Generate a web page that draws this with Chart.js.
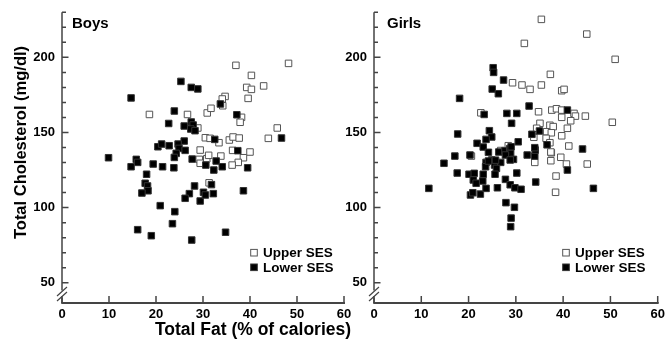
<!DOCTYPE html>
<html><head><meta charset="utf-8">
<script src="https://cdn.jsdelivr.net/npm/chart.js@4.4.1/dist/chart.umd.min.js"></script>
<style>
html,body{margin:0;padding:0;background:#fff;width:667px;height:339px;overflow:hidden}
canvas{position:absolute;top:0}
#c1{left:0}
#c2{left:338px}
</style></head><body>
<canvas id="c1" width="360" height="339"></canvas>
<canvas id="c2" width="329" height="339"></canvas>
<script>
// ---------- data ----------
const seriesLabels = ['Upper SES', 'Lower SES'];
const panelTitles = ['Boys', 'Girls'];
const xTickValues = [0, 10, 20, 30, 40, 50, 60];
const yMajorTicks = [50, 100, 150, 200];
const yMinorTicks = [60, 70, 80, 90, 110, 120, 130, 140, 160, 170, 180, 190, 210, 220, 230];
const xAxisTitle = 'Total Fat (% of calories)';
const yAxisTitle = 'Total Cholesterol (mg/dl)';

const boysUpper = [
  [18.6,162],[26.7,162],[30.9,163],[28.9,153],[30.5,146.5],[29.4,138.3],[29.2,132.1],[30.8,132.5],
  [31.2,134.8],[29.4,129.5],[37,194.7],[48.2,196],[40.3,188],[39.3,180],[40.3,178.7],[42.9,181],
  [39.6,172.7],[34.7,174],[34.1,172.3],[34.2,167.8],[31.7,166.1],[38.2,160.1],[37.9,156.8],[45.8,153],
  [43.9,146.1],[31.5,146.1],[33.4,143.2],[35.6,145],[36.4,147],[37.7,146.3],[36.3,138.1],[40,137],
  [38.6,133.2],[37.5,130.1],[36.2,128.3],[33.8,134.3],[31.3,116.5]
];
const boysLower = [
  [25.3,184],[27.5,180],[28.9,179],[14.7,173],[23.9,164.3],[22.7,156],[26,154.3],[27.5,157],
  [27.9,155],[27.4,152.3],[28.3,151.2],[26,144.3],[24.7,142.3],[24.9,139.4],[24.3,136.1],[23.9,133.4],
  [26.2,138.1],[20.4,140.5],[21.2,142.3],[22.8,141.2],[27.7,132.3],[30.6,128.3],[9.9,133.2],[15.8,132.1],
  [16.1,130.1],[14.7,127.2],[19.4,129],[21.4,127.2],[23.8,126.5],[18,122.2],[17.7,116.2],[18.2,114.4],
  [18.3,111.2],[17,109.7],[20.9,101.3],[24,97.3],[23.5,89.3],[16.1,85.3],[19,81.3],[27.6,78.4],
  [28.2,114.4],[27.1,109.3],[26.2,106.2],[29.4,104.4],[30.1,110.2],[30.5,108.4],[33.7,169],[37.2,161.8],
  [46.7,146.3],[32.5,145.4],[37.4,137.9],[32.8,131],[34.1,127.2],[32.3,125],[39.5,126.5],[31.8,115.3],
  [32.2,109.3],[38.6,111.2],[34.8,83.6]
];
const girlsUpper = [
  [29.3,183.1],[22.6,163.1],[28.4,141.2],[20.6,134.3],[34,130.1],[37.4,131.2],[37.5,136.5],[39.5,133.5],
  [40.7,129],[45.1,129],[38.5,121],[38.4,110.2],[35.4,225.3],[45,215.5],[31.8,209.3],[51,198.7],
  [37.3,188.7],[31.3,181.6],[33,178.7],[35.4,181.6],[39.7,177.8],[40.2,178.7],[34.8,163.8],[37.6,164.9],
  [38.6,165.8],[39.7,164.9],[42.3,162.7],[42.6,160.9],[44.7,160.9],[39.7,160.1],[41.6,157.8],[50.4,156.8],
  [35.1,156.1],[37.2,154.8],[37.9,153.9],[34.4,152.8],[36.5,150.5],[37.5,149.8],[40.9,152.8],[33.8,146.8],
  [36.4,146.1],[39.7,147.8],[37.2,143.2],[41.2,141],[37.4,137],[26.8,138]
];
const girlsLower = [
  [25.2,193.1],[25.3,190],[27.4,184.9],[25,178.9],[26.3,175.8],[18.1,172.7],[23.3,162],[28.1,162.7],
  [30.2,162.7],[29.1,156.1],[17.7,149],[24.4,151.2],[24.9,147],[23.7,145.4],[21.8,142.8],[23.1,140.3],
  [24.2,136.8],[30.5,143.8],[26.4,137],[27.7,137.9],[28.7,139.2],[28.9,136.1],[27.8,135],[17.1,134.3],
  [20.3,135],[29.5,132.1],[14.8,129.5],[23.7,130.1],[24.9,131.7],[25.5,128.3],[26.8,130.1],[23.6,127.2],
  [25.9,126.1],[11.6,112.8],[17.6,123],[20.1,122.2],[21.2,122.8],[21,118.4],[21.6,116.2],[23,117.7],
  [23.1,122.2],[20.4,108.4],[20.9,109.9],[22.5,109],[23.7,112.8],[25.6,122.2],[26.1,113.2],[27.8,118.8],
  [28.8,115.2],[29.8,113.2],[30.2,123],[27.9,103.3],[29.7,100.2],[29,93],[28.9,87.3],[32.4,135],
  [34,134.3],[34.1,138.3],[40.9,125],[31.1,112.2],[34.2,117],[46.4,112.8],[32.8,167.6],[40.9,164.9],
  [35,151],[33.4,148.8],[36.6,141.8],[34,139.9],[44.1,139],[29,140.5],[24.2,131],[25.7,131.6],[28.8,131.7]
];

// ---------- drawing ----------
const FONT = '"Liberation Sans", Arial, Helvetica, sans-serif';
const AXIS = '#444';

const axesPlugin = {
  id: 'axes',
  afterDraw(chart, args, opts) {
    const {ctx, chartArea: a, scales: {x, y}} = chart;
    const ax = a.left, ay = a.bottom;
    ctx.save();
    ctx.strokeStyle = AXIS;
    ctx.lineCap = 'butt';
    // y axis with break
    ctx.lineWidth = 1.5;
    ctx.beginPath();
    ctx.moveTo(ax, a.top); ctx.lineTo(ax, ay - 12.5);
    ctx.moveTo(ax, ay - 5.5); ctx.lineTo(ax, ay);
    ctx.stroke();
    ctx.lineWidth = 1.2;
    ctx.beginPath();
    [ay - 11.5, ay - 6.5].forEach(yc => { ctx.moveTo(ax - 5, yc + 4.5); ctx.lineTo(ax + 5, yc - 4.5); });
    ctx.stroke();
    // y ticks
    ctx.lineWidth = 1.5;
    ctx.beginPath();
    yMajorTicks.forEach(v => { const p = y.getPixelForValue(v); ctx.moveTo(ax, p); ctx.lineTo(ax + 6.5, p); });
    yMinorTicks.forEach(v => { const p = y.getPixelForValue(v); ctx.moveTo(ax, p); ctx.lineTo(ax + 4, p); });
    ctx.stroke();
    // x axis
    ctx.lineWidth = 2;
    ctx.beginPath();
    ctx.moveTo(ax - 0.75, ay); ctx.lineTo(a.right + 1, ay);
    ctx.stroke();
    ctx.lineWidth = 1.5;
    ctx.beginPath();
    xTickValues.forEach(v => { const p = x.getPixelForValue(v); ctx.moveTo(p, ay); ctx.lineTo(p, ay - 7); });
    ctx.stroke();
    // tick labels
    ctx.fillStyle = '#000';
    ctx.font = 'bold 13px ' + FONT;
    ctx.textAlign = 'center'; ctx.textBaseline = 'middle';
    xTickValues.forEach(v => ctx.fillText(String(v), x.getPixelForValue(v), ay + 11));
    ctx.textAlign = 'right';
    yMajorTicks.forEach(v => ctx.fillText(String(v), ax - 7, y.getPixelForValue(v)));
    // panel title
    ctx.textAlign = 'left'; ctx.textBaseline = 'alphabetic';
    ctx.font = 'bold 15px ' + FONT;
    ctx.fillText(opts.title, ax + opts.titleDx, 28);
    // legend
    ctx.font = 'bold 13.5px ' + FONT;
    ctx.textBaseline = 'middle';
    const rows = [252.7, 267.3];
    chart.data.datasets.slice().sort((p, q) => q.order - p.order).forEach((ds, i) => {
      const cx = ax + 192, cy = rows[i];
      ctx.fillStyle = ds.backgroundColor; ctx.strokeStyle = ds.borderColor; ctx.lineWidth = 1;
      ctx.fillRect(cx - 3.3, cy - 3.3, 6.6, 6.6);
      ctx.strokeRect(cx - 3.3, cy - 3.3, 6.6, 6.6);
      ctx.fillStyle = '#000';
      ctx.fillText(ds.label, ax + 201, cy + 0.5);
    });
    // axis titles (left panel only)
    if (opts.axisTitles) {
      ctx.font = 'bold 17.5px ' + FONT;
      ctx.textAlign = 'center'; ctx.textBaseline = 'middle';
      ctx.fillText(xAxisTitle, 253, 330);
      ctx.save();
      ctx.font = 'bold 16.5px ' + FONT;
      ctx.translate(21, 142.5);
      ctx.rotate(-Math.PI / 2);
      ctx.fillText(yAxisTitle, 0, 0);
      ctx.restore();
    }
    ctx.restore();
  }
};

function toPts(arr) { return arr.map(([x, y]) => ({x, y})); }

function makePanel(id, upper, lower, padding, opts) {
  return new Chart(document.getElementById(id), {
    type: 'scatter',
    data: {
      datasets: [
        {label: seriesLabels[0], data: toPts(upper), order: 1, pointStyle: 'rect', radius: 4.6, hoverRadius: 4.6,
         backgroundColor: '#ffffff', borderColor: '#555555', borderWidth: 1},
        {label: seriesLabels[1], data: toPts(lower), order: 0, pointStyle: 'rect', radius: 4.6, hoverRadius: 4.6,
         backgroundColor: '#000000', borderColor: '#333333', borderWidth: 1}
      ]
    },
    options: {
      responsive: false, animation: false, events: [],
      layout: {padding},
      scales: {
        x: {type: 'linear', min: 0, max: 60, display: false},
        y: {type: 'linear', min: 36.5, max: 230, display: false}
      },
      plugins: {legend: {display: false}, tooltip: {enabled: false}, axes: opts}
    },
    plugins: [axesPlugin]
  });
}

makePanel('c1', boysUpper, boysLower, {left: 62, right: 16, top: 12.3, bottom: 36},
  {title: panelTitles[0], titleDx: 10, axisTitles: true});
makePanel('c2', girlsUpper, girlsLower, {left: 36, right: 9.3, top: 12.3, bottom: 36},
  {title: panelTitles[1], titleDx: 13, axisTitles: false});
</script>
</body></html>
